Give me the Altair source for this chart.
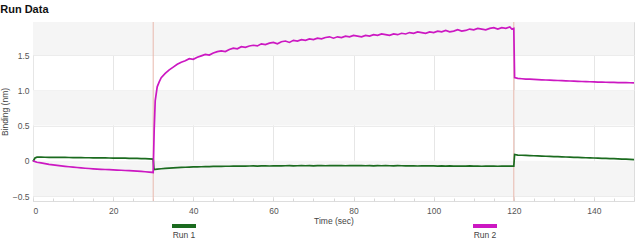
import altair as alt
import pandas as pd

# ---- data ----
run1_time = [0, 0.5] + list(range(1, 31)) + [30.2] + list(range(31, 121)) + [120.2] + list(range(121, 151))
run1_binding = (
    [-0.01, 0.04]
    + [0.052, 0.053, 0.051, 0.050, 0.050, 0.049, 0.048, 0.048, 0.047, 0.046,
       0.046, 0.045, 0.044, 0.044, 0.043, 0.042, 0.042, 0.041, 0.040, 0.039,
       0.039, 0.038, 0.037, 0.036, 0.035, 0.034, 0.032, 0.030, 0.028, 0.025]
    + [-0.125]
    + [-0.118, -0.112, -0.107, -0.103, -0.099, -0.096, -0.093, -0.091, -0.089, -0.087,
       -0.085, -0.084, -0.082, -0.081, -0.080, -0.079, -0.078, -0.077, -0.077, -0.076,
       -0.075, -0.074, -0.075, -0.073, -0.072, -0.074, -0.072, -0.071, -0.073, -0.070,
       -0.071, -0.072, -0.070, -0.069, -0.071, -0.070, -0.068, -0.070, -0.069, -0.071,
       -0.069, -0.068, -0.070, -0.069, -0.067, -0.069, -0.068, -0.070, -0.068, -0.067,
       -0.069, -0.068, -0.070, -0.069, -0.071, -0.069, -0.070, -0.068, -0.070, -0.071,
       -0.069, -0.070, -0.072, -0.070, -0.071, -0.073, -0.071, -0.072, -0.070, -0.072,
       -0.074, -0.072, -0.075, -0.073, -0.074, -0.076, -0.074, -0.075, -0.073, -0.076,
       -0.075, -0.077, -0.074, -0.076, -0.075, -0.077, -0.076, -0.074, -0.076, -0.075]
    + [0.09]
    + [0.082, 0.079, 0.077, 0.074, 0.072, 0.070, 0.067, 0.065, 0.063, 0.061,
       0.059, 0.056, 0.054, 0.052, 0.050, 0.048, 0.046, 0.044, 0.042, 0.040,
       0.038, 0.036, 0.034, 0.032, 0.030, 0.028, 0.025, 0.023, 0.020, 0.018]
)

run2_time = list(range(0, 31)) + [30.25, 30.5, 31, 31.5] + list(range(32, 120)) + [119.5, 120, 120.2] + list(range(121, 151))
run2_binding = (
    [0.00, -0.02, -0.03, -0.04, -0.05, -0.057, -0.065, -0.072, -0.078, -0.084,
     -0.09, -0.095, -0.10, -0.105, -0.109, -0.113, -0.117, -0.12, -0.123, -0.126,
     -0.128, -0.131, -0.134, -0.137, -0.14, -0.143, -0.147, -0.151, -0.155, -0.16, -0.165]
    + [0.45, 0.85, 1.05, 1.12]
    + [1.18, 1.24, 1.29, 1.33, 1.37, 1.40, 1.42, 1.45, 1.44, 1.47,
       1.49, 1.51, 1.50, 1.53, 1.55, 1.56, 1.55, 1.58, 1.60, 1.59,
       1.62, 1.61, 1.63, 1.64, 1.63, 1.66, 1.65, 1.67, 1.68, 1.66,
       1.69, 1.70, 1.68, 1.71, 1.70, 1.72, 1.71, 1.73, 1.72, 1.74,
       1.73, 1.75, 1.76, 1.74, 1.76, 1.75, 1.77, 1.76, 1.78, 1.77,
       1.76, 1.78, 1.77, 1.79, 1.78, 1.80, 1.79, 1.78, 1.80, 1.79,
       1.81, 1.80, 1.82, 1.81, 1.83, 1.82, 1.81, 1.83, 1.82, 1.84,
       1.83, 1.85, 1.83, 1.84, 1.86, 1.84, 1.85, 1.87, 1.86, 1.88,
       1.87, 1.86, 1.88, 1.89, 1.87, 1.89, 1.88, 1.90]
    + [1.87, 1.88, 1.18]
    + [1.17, 1.165, 1.16, 1.158, 1.155, 1.152, 1.15, 1.147, 1.145, 1.142,
       1.14, 1.138, 1.135, 1.133, 1.13, 1.128, 1.126, 1.124, 1.122, 1.12,
       1.118, 1.117, 1.115, 1.114, 1.112, 1.111, 1.11, 1.109, 1.108, 1.107]
)

series_names = ["Run 1", "Run 2"]
series_colors = ["#1b6b1f", "#cc18c2"]
event_times = [30, 120]
band_lo = [1.5, 0.5, -0.5]
band_hi = [1.97, 1.0, 0.0]
y_ticks = [-0.5, 0, 0.5, 1.0, 1.5]
x_ticks = [0, 20, 40, 60, 80, 100, 120, 140]
x_minor = list(range(0, 151, 5))

df = pd.concat([
    pd.DataFrame({"t": run1_time, "v": run1_binding, "series": series_names[0]}),
    pd.DataFrame({"t": run2_time, "v": run2_binding, "series": series_names[1]}),
])
bands = pd.DataFrame({"lo": band_lo, "hi": band_hi})
events = pd.DataFrame({"t": event_times})
legend_df = pd.DataFrame({"series": series_names})

W, H = 601, 179
xscale = alt.Scale(domain=[0, 150], nice=False, zero=False)
yscale = alt.Scale(domain=[-0.57, 1.97], nice=False, zero=False)
FONT = "Liberation Sans"

band_layer = alt.Chart(bands).mark_rect(color="#f5f5f5").encode(
    y=alt.Y("lo:Q", scale=yscale,
            axis=alt.Axis(values=y_ticks, title="Binding (nm)", grid=True, gridColor="#ececec",
                          ticks=False, domain=False, labelFontSize=8.5, labelColor="#555",
                          labelFont=FONT, labelPadding=4,
                          labelExpr="datum.value == 0 ? '0' : format(datum.value, '.1f')",
                          titleFont=FONT, titleFontSize=8.5, titleFontWeight="normal",
                          titleColor="#444", titlePadding=3)),
    y2="hi:Q",
)

event_layer = alt.Chart(events).mark_rule(color="#e8b8ad", strokeWidth=1).encode(
    x=alt.X("t:Q", scale=xscale,
            axis=alt.Axis(values=x_ticks, title="Time (sec)", grid=True, gridColor="#e6e6e6",
                          ticks=False, domain=False, labelFontSize=8.5, labelColor="#555",
                          labelFont=FONT, labelPadding=5,
                          titleFont=FONT, titleFontSize=8.5, titleFontWeight="normal",
                          titleColor="#444", titlePadding=2)),
)

minor_layer = alt.Chart(events).mark_rule(opacity=0).encode(
    x=alt.X("t:Q", scale=xscale,
            axis=alt.Axis(orient="top", offset=-H, values=x_minor, labels=False, domain=False,
                          grid=False, ticks=True, tickSize=3, tickColor="#d8d8d8", title=None)),
)

lines = alt.Chart(df).mark_line(strokeWidth=1.7, interpolate="linear").encode(
    x=alt.X("t:Q", scale=xscale, axis=None),
    y=alt.Y("v:Q", scale=yscale),
    color=alt.Color("series:N", scale=alt.Scale(domain=series_names, range=series_colors), legend=None),
    order=alt.Order("t:Q"),
)

leg1_rule = alt.Chart(legend_df.iloc[[0]]).mark_rule(strokeWidth=4, color=series_colors[0]).encode(
    x=alt.value(139), x2=alt.value(163), y=alt.value(204))
leg2_rule = alt.Chart(legend_df.iloc[[1]]).mark_rule(strokeWidth=4, color=series_colors[1]).encode(
    x=alt.value(440), x2=alt.value(464), y=alt.value(204))
leg1_text = alt.Chart(legend_df.iloc[[0]]).mark_text(font=FONT, fontSize=8.5, color="#444", baseline="middle").encode(
    x=alt.value(151), y=alt.value(213), text="series:N")
leg2_text = alt.Chart(legend_df.iloc[[1]]).mark_text(font=FONT, fontSize=8.5, color="#444", baseline="middle").encode(
    x=alt.value(452), y=alt.value(213), text="series:N")

chart = alt.layer(
    band_layer, event_layer, minor_layer, lines, leg1_rule, leg2_rule, leg1_text, leg2_text
).resolve_axis(x="independent").properties(
    width=W, height=H,
    autosize=alt.AutoSizeParams(type="none"),
    padding={"left": 33, "top": 22, "right": 6, "bottom": 44},
    title=alt.TitleParams("Run Data", anchor="start", font=FONT, fontSize=11, fontWeight="bold",
                          color="#111", frame="bounds", offset=7),
).configure_view(stroke="#e2e2e2", strokeWidth=1).configure(background="white")

chart.save("out.html", embed_options={"renderer": "svg", "actions": False})
